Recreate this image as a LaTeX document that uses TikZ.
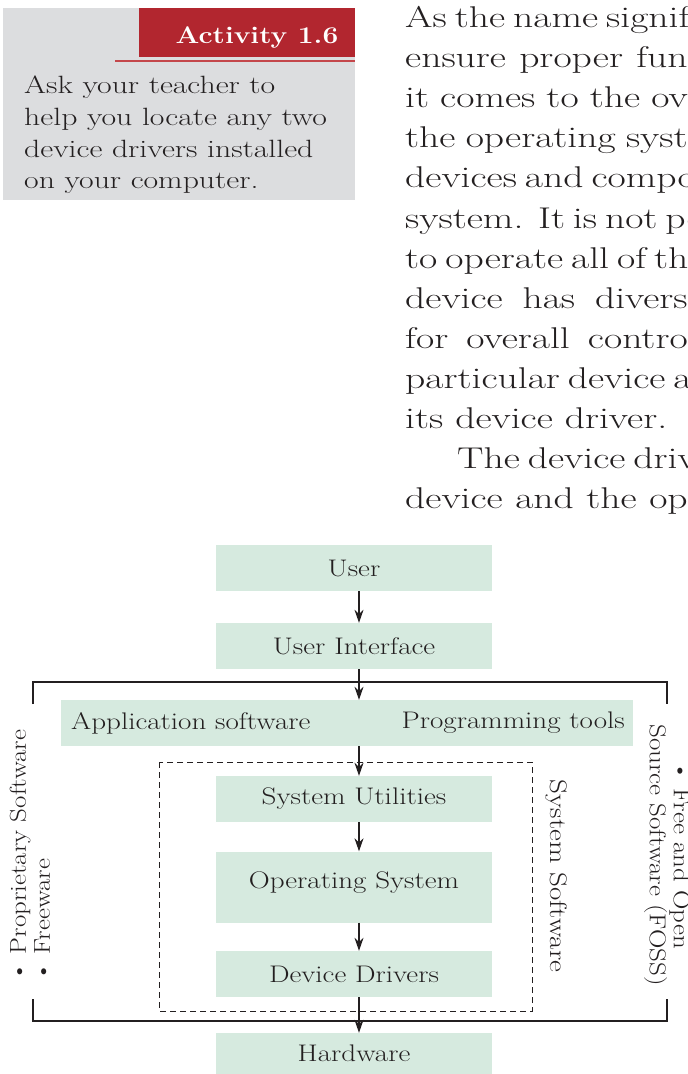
\documentclass[tikz,border=0pt]{standalone}
\usepackage{fontspec}
\usepackage{graphicx}
\usetikzlibrary{arrows.meta}
\definecolor{boxg}{HTML}{D6EADF}
\definecolor{grayb}{HTML}{DCDDDF}
\definecolor{redb}{HTML}{B2262F}
\definecolor{redl}{HTML}{C4474B}
\definecolor{txt}{HTML}{231F20}
\newcommand\xs[2]{\scalebox{#1}[1]{#2}}
\newcommand\bodyfont{\fontsize{30}{40}\selectfont}
\newcommand\labfont{\fontsize{24}{26}\selectfont}
\newcommand\bl[2]{\scalebox{1.32}[1]{\makebox[#1pt][s]{#2}}}
\begin{document}
\begin{tikzpicture}[x=1pt,y=-1pt,color=txt,
  box/.style={fill=boxg, minimum width=276pt, minimum height=46pt, inner sep=0pt, font=\labfont},
  arr/.style={line width=1.2pt, -{Stealth[length=13pt,width=9pt]}},
  frame/.style={line width=1.2pt},
  dbox/.style={line width=0.9pt, dash pattern=on 6pt off 4pt},
  bodyline/.style={anchor=base west, inner sep=0pt, font=\bodyfont},
  actline/.style={anchor=base west, inner sep=0pt, font=\fontsize{25}{30}\selectfont}]
\useasboundingbox (0,0) rectangle (688,1074);
\begin{scope}
\clip (0,0) rectangle (688,1074);
% activity box
\fill[grayb] (3,8) rectangle (355,200);
\fill[redb] (139,8) rectangle (355,57);
\draw[redl, line width=2pt] (115,61.3) -- (355,61.3);
\node[inner sep=0pt, text=white, font=\fontsize{24}{28}\selectfont\bfseries] (act) at (257,37) {\xs{1.17}{Activity 1.6}};
\node[actline] (g1) at (24,93.3) {\xs{1.27}{Ask your teacher to}};
\node[actline] (g2) at (24,125.2) {\xs{1.27}{help you locate any two}};
\node[actline] (g3) at (24,157) {\xs{1.27}{device drivers installed}};
\node[actline] (g4) at (24,188.8) {\xs{1.27}{on your computer.}};
% body text (justified lines, cut by the page edge)
\foreach \t [count=\i] in {As the name signif, ensure proper fun, it comes to the ov, the operating syst, devices and compo, system. It is not po, to operate all of the, device has divers, for overall contro, particular device a}
  \node[bodyline] (b\i) at (405,{27.5+40.1*(\i-1)}) {\bl{214}{\t}};
\node[bodyline] (b11) at (405,{27.5+40.1*10}) {\xs{1.32}{its device driver.}};
\node[bodyline] (b12) at (457,{27.5+40.1*11}) {\bl{175}{The device driv}};
\node[bodyline] (b13) at (405,{27.5+40.1*12}) {\bl{214}{device and the op}};
% diagram
\node[box] (user) at (354,568) {\xs{1.21}{User}};
\node[box] (ui) at (354,646) {\xs{1.21}{User Interface}};
\node[box, minimum width=572pt] (app) at (347,723) {};
\node[anchor=west, inner sep=0pt, font=\labfont] (appl) at (71,723) {\xs{1.21}{Application software}};
\node[anchor=east, inner sep=0pt, font=\labfont] (appr) at (625,723) {\xs{1.21}{Programming tools}};
\node[box] (su) at (354,799) {\xs{1.21}{System Utilities}};
\node[box, minimum height=71pt] (os) at (354,887) {};
\node[inner sep=0pt, font=\labfont] (ost) at (354,883) {\xs{1.21}{Operating System}};
\node[box] (dd) at (354,974) {\xs{1.21}{Device Drivers}};
\node[box, minimum height=41pt] (hw) at (354,1053.5) {\xs{1.21}{Hardware}};
% frames
\draw[frame] (33,704) -- (33,682) -- (667,682) -- (667,704);
\draw[frame] (33,999) -- (33,1021) -- (667,1021) -- (667,999);
\draw[dbox] (159,762) rectangle (532,1011);
% arrows
\coordinate (ax) at (359,0);
\draw[arr] (user.south -| ax) -- (ui.north -| ax);
\draw[arr] (ui.south -| ax) -- (app.north -| ax);
\draw[arr] (app.south -| ax) -- (su.north -| ax);
\draw[arr] (su.south -| ax) -- (os.north -| ax);
\draw[arr] (os.south -| ax) -- (dd.north -| ax);
\draw[arr] (dd.south -| ax) -- (hw.north -| ax);
% side labels
\node[rotate=-90, inner sep=0pt, font=\labfont] (ss) at (556,876) {\xs{1.21}{System Software}};
\node[rotate=90, anchor=west, inner sep=0pt, align=left, font=\fontsize{23}{24}\selectfont] (lft) at (30,982) {\xs{1.17}{\textbullet\ Proprietary Software}\\\xs{1.17}{\textbullet\ Freeware}};
\node[rotate=-90, inner sep=0pt, align=center, font=\fontsize{23}{24}\selectfont] (rgt) at (667,855) {\xs{1.17}{\textbullet\ Free and Open}\\\xs{1.17}{Source Software (FOSS)}};
\end{scope}
\end{tikzpicture}
\end{document}
